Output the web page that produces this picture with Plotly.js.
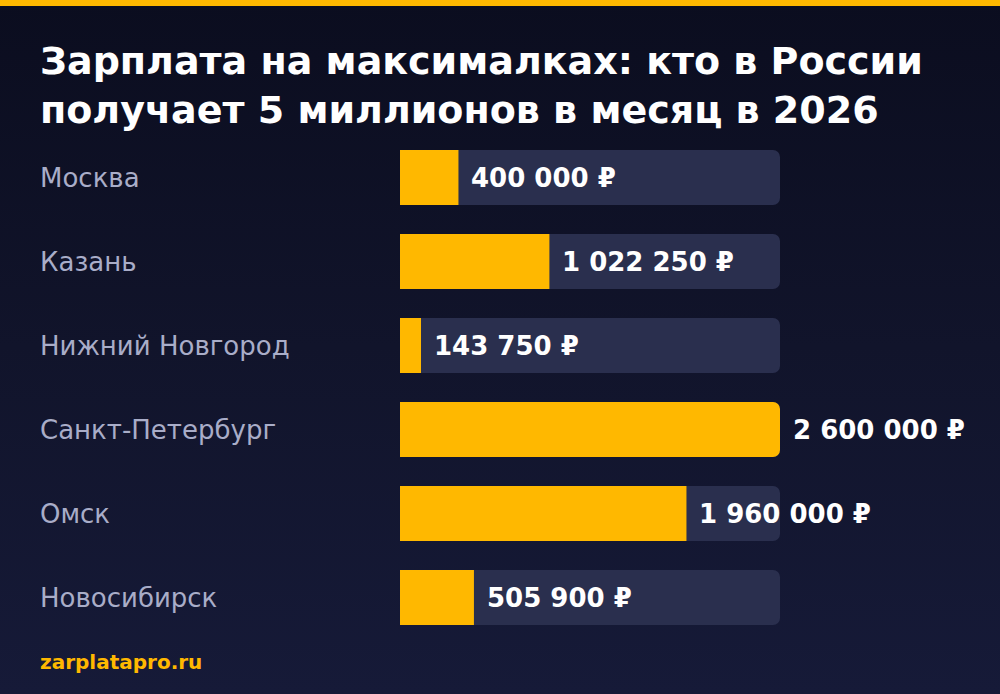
<!DOCTYPE html>
<html><head><meta charset="utf-8">
<script src="https://cdn.plot.ly/plotly-3.0.1.min.js"></script>
<style>
html,body{margin:0;padding:0;width:1000px;height:694px;overflow:hidden;}
body{background:linear-gradient(180deg,#0b0d1f 0%,#11142b 50%,#161a38 100%);}
#chart{width:1000px;height:694px;}
</style></head>
<body><div id="chart"></div>
<script>
const cities = ["Москва","Казань","Нижний Новгород","Санкт-Петербург","Омск","Новосибирск"];
const salaries = [400000,1022250,143750,2600000,1960000,505900];
const maxSalary = 2600000;
const titleText = "Зарплата на максималках: кто в России<br>получает 5 миллионов в месяц в 2026";
const sourceText = "zarplatapro.ru";

function fmt(v){return String(v).replace(/\B(?=(\d{3})+(?!\d))/g," ")+" ₽";}

const W=1000,H=694;
const yTop=135.5, yBot=639.5;
const traces=[
 {type:"bar",orientation:"h",y:cities,x:cities.map(()=>maxSalary),
  marker:{color:"#2a2f4e",cornerradius:7},width:0.655,hoverinfo:"skip"},
 {type:"bar",orientation:"h",y:cities,x:salaries,
  marker:{color:"#ffb800",cornerradius:7},width:0.655,hoverinfo:"skip"}
];
const ann=[];
cities.forEach((c,i)=>{
 ann.push({xref:"paper",yref:"y",x:0.04,y:c,xanchor:"left",yanchor:"middle",xshift:-2,showarrow:false,
  text:c,font:{family:"DejaVu Sans",size:26,color:"#a9adc8"}});
 ann.push({xref:"x",yref:"y",x:salaries[i],y:c,xanchor:"left",yanchor:"middle",xshift:11,showarrow:false,
  text:"<b>"+fmt(salaries[i])+"</b>",font:{family:"DejaVu Sans",size:26,color:"#ffffff"}});
});
ann.push({xref:"paper",yref:"paper",x:0.04,y:1-86/H,xanchor:"left",yanchor:"middle",xshift:-2,showarrow:false,align:"left",
 text:"<b>"+titleText+"</b>",font:{family:"DejaVu Sans",size:38,color:"#ffffff"}});
ann.push({xref:"paper",yref:"paper",x:0.04,y:1-662/H,xanchor:"left",yanchor:"middle",xshift:-2,showarrow:false,
 text:"<b>"+sourceText+"</b>",font:{family:"DejaVu Sans",size:20,color:"#ffb800"}});

const layout={
 width:W,height:H,margin:{l:0,r:0,t:0,b:0},
 paper_bgcolor:"rgba(0,0,0,0)",plot_bgcolor:"rgba(0,0,0,0)",
 barmode:"overlay",showlegend:false,
 xaxis:{domain:[0.4,0.78],range:[0,maxSalary],visible:false,fixedrange:true},
 yaxis:{domain:[1-yBot/H,1-yTop/H],range:[5.5,-0.5],type:"category",categoryorder:"array",categoryarray:cities,visible:false,fixedrange:true},
 annotations:ann,
 shapes:[{type:"rect",xref:"paper",yref:"paper",x0:0,x1:1,y0:1-6/H,y1:1,fillcolor:"#ffb800",line:{width:0}}]
};
Plotly.newPlot("chart",traces,layout,{displayModeBar:false,staticPlot:true});
</script></body></html>
